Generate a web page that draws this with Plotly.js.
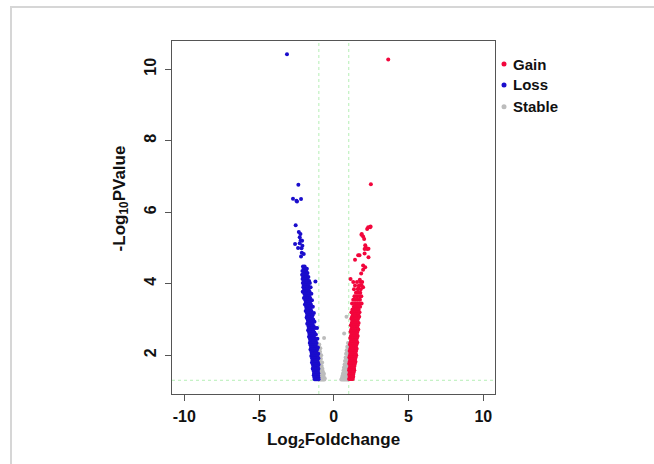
<!DOCTYPE html>
<html>
<head>
<meta charset="utf-8">
<script src="https://cdn.plot.ly/plotly-3.0.1.min.js"></script>
<style>
html,body{margin:0;padding:0;background:#fff;}
#wrap{position:relative;width:654px;height:464px;}
#chart{width:654px;height:464px;}
#frame{position:absolute;left:10px;top:6px;width:700px;height:500px;border-top:2px solid #d6d6d6;border-left:2px solid #d6d6d6;pointer-events:none;}
</style>
</head>
<body>
<div id="wrap"><div id="chart"></div><div id="frame"></div></div>
<script>
// ---- Data ----
const seriesNames = ["Gain", "Loss", "Stable"];
const xTicks = [-10, -5, 0, 5, 10];
const yTicks = [2, 4, 6, 8, 10];
const fcCut = 1;          // |log2FC| threshold
const pCut = 1.301;       // -log10(0.05)

const lossX = [
 -3.13,-2.37,-2.73,-2.50,-2.46,-2.19,-2.55,-2.34,-2.23,-2.28,-2.59,-2.28,-2.10,-2.39,-2.14,-2.01,-2.19,-2.21,-2.12,-2.16,
 -2.06,-1.95,
 -2.02,-1.88,-1.80,
 -2.10,-1.97,-1.85,
 -1.99,-1.90,-1.76,
 -2.12,-2.03,-1.93,-1.82,
 -2.05,-1.96,-1.87,-1.70,
 -2.09,-1.98,-1.89,-1.78,
 -2.01,-1.92,-1.84,-1.65,-1.23,
 -2.07,-1.96,-1.87,-1.76,-1.60,
 -2.00,-1.91,-1.82,-1.72,
 -2.04,-1.94,-1.85,-1.78,-1.55,
 -1.98,-1.89,-1.80,-1.69,
 -2.08,-1.93,-1.84,-1.75,-1.62,
 -1.97,-1.88,-1.79,-1.70,-1.50,
 -1.92,-1.83,-1.74,-1.65,
 -2.00,-1.88,-1.79,-1.70,-1.58,
 -1.90,-1.82,-1.73,-1.64,-1.46,
 -1.86,-1.78,-1.69,-1.60,
 -1.93,-1.83,-1.74,-1.65,-1.53,
 -1.85,-1.77,-1.68,-1.59,-1.40,
 -1.82,-1.73,-1.64,-1.55,
 -1.88,-1.79,-1.70,-1.61,-1.50,
 -1.80,-1.72,-1.63,-1.54,-1.33,
 -1.77,-1.68,-1.60,-1.51,-1.42,
 -1.82,-1.74,-1.65,-1.57,-1.47,
 -1.75,-1.67,-1.59,-1.50,-1.38,
 -1.72,-1.64,-1.56,-1.47,-1.29,
 -1.78,-1.69,-1.61,-1.53,-1.44,
 -1.70,-1.62,-1.54,-1.45,-1.35,
 -1.67,-1.59,-1.51,-1.42,-1.25,-1.12,
 -1.72,-1.64,-1.56,-1.48,-1.39,
 -1.65,-1.57,-1.49,-1.41,-1.30,
 -1.62,-1.54,-1.46,-1.38,-1.20,
 -1.66,-1.58,-1.50,-1.42,-1.33,
 -1.60,-1.52,-1.44,-1.36,-1.26,-1.10,
 -1.57,-1.49,-1.41,-1.33,-1.22,
 -1.61,-1.53,-1.45,-1.37,-1.28,-1.15,
 -1.55,-1.47,-1.39,-1.31,-1.21,
 -1.52,-1.44,-1.36,-1.28,-1.18,-1.06,
 -1.56,-1.48,-1.40,-1.32,-1.24,-1.12,
 -1.50,-1.42,-1.35,-1.27,-1.17,
 -1.47,-1.40,-1.32,-1.24,-1.14,-1.04,
 -1.51,-1.43,-1.36,-1.28,-1.20,-1.09,
 -1.45,-1.38,-1.30,-1.22,-1.13,-1.03,
 -1.42,-1.35,-1.28,-1.20,-1.11,
 -1.46,-1.39,-1.31,-1.24,-1.16,-1.06,
 -1.40,-1.33,-1.26,-1.18,-1.09,-1.02,
 -1.37,-1.30,-1.23,-1.15,-1.07,
 -1.41,-1.34,-1.27,-1.20,-1.12,-1.03,
 -1.35,-1.28,-1.21,-1.14,-1.06,
 -1.32,-1.26,-1.19,-1.12,-1.04,
 -1.34,-1.27,-1.20,-1.13,-1.05,
 -1.30,-1.24,-1.17,-1.10,-1.03,
 -1.28,-1.21,-1.15,-1.08,-1.02
];
const lossY = [
 10.42,6.77,6.38,6.32,6.30,6.37,5.64,5.45,5.39,5.30,5.11,5.13,5.06,5.00,4.87,4.83,4.76,5.22,5.20,4.99,
 4.48,4.48,
 4.42,4.42,4.42,
 4.36,4.36,4.36,
 4.30,4.30,4.30,
 4.25,4.25,4.25,4.25,
 4.19,4.19,4.19,4.19,
 4.13,4.13,4.13,4.13,
 4.08,4.08,4.08,4.08,4.06,
 4.02,4.02,4.02,4.02,4.02,
 3.96,3.96,3.96,3.96,
 3.90,3.90,3.90,3.90,3.90,
 3.84,3.84,3.84,3.84,
 3.78,3.78,3.78,3.78,3.78,
 3.72,3.72,3.72,3.72,3.72,
 3.66,3.66,3.66,3.66,
 3.60,3.60,3.60,3.60,3.60,
 3.54,3.54,3.54,3.54,3.54,
 3.48,3.48,3.48,3.48,
 3.42,3.42,3.42,3.42,3.42,
 3.36,3.36,3.36,3.36,3.36,
 3.30,3.30,3.30,3.30,
 3.24,3.24,3.24,3.24,3.24,
 3.18,3.18,3.18,3.18,3.18,
 3.12,3.12,3.12,3.12,3.12,
 3.06,3.06,3.06,3.06,3.06,
 3.00,3.00,3.00,3.00,3.00,
 2.94,2.94,2.94,2.94,2.94,
 2.88,2.88,2.88,2.88,2.88,
 2.82,2.82,2.82,2.82,2.82,
 2.76,2.76,2.76,2.76,2.76,2.76,
 2.70,2.70,2.70,2.70,2.70,
 2.64,2.64,2.64,2.64,2.64,
 2.58,2.58,2.58,2.58,2.58,
 2.52,2.52,2.52,2.52,2.52,
 2.46,2.46,2.46,2.46,2.46,2.46,
 2.40,2.40,2.40,2.40,2.40,
 2.34,2.34,2.34,2.34,2.34,2.34,
 2.28,2.28,2.28,2.28,2.28,
 2.22,2.22,2.22,2.22,2.22,2.22,
 2.16,2.16,2.16,2.16,2.16,2.16,
 2.10,2.10,2.10,2.10,2.10,
 2.04,2.04,2.04,2.04,2.04,2.04,
 1.98,1.98,1.98,1.98,1.98,1.98,
 1.92,1.92,1.92,1.92,1.92,1.92,
 1.86,1.86,1.86,1.86,1.86,
 1.80,1.80,1.80,1.80,1.80,1.80,
 1.74,1.74,1.74,1.74,1.74,1.74,
 1.68,1.68,1.68,1.68,1.68,
 1.62,1.62,1.62,1.62,1.62,1.62,
 1.56,1.56,1.56,1.56,1.56,
 1.50,1.50,1.50,1.50,1.50,
 1.44,1.44,1.44,1.44,1.44,
 1.38,1.38,1.38,1.38,1.38,
 1.33,1.33,1.33,1.33,1.33
];

const gainX = [
 3.64,2.48,2.23,2.43,2.30,2.46,1.87,1.96,2.03,1.85,2.10,2.14,2.06,2.23,2.32,2.06,1.72,2.32,1.42,1.63,
 1.96,2.10,1.96,1.83,1.12,1.74,1.65,1.96,
 1.30,1.55,1.78,1.90,
 1.42,1.68,1.86,
 1.35,1.60,1.80,
 1.48,1.63,1.77,
 1.38,1.55,1.72,1.84,
 1.30,1.45,1.60,1.75,
 1.22,1.40,1.55,1.70,1.86,
 1.34,1.48,1.62,1.76,
 1.25,1.40,1.52,1.66,
 1.18,1.32,1.45,1.58,1.72,
 1.28,1.40,1.52,1.64,
 1.22,1.34,1.46,1.58,1.70,
 1.17,1.29,1.41,1.53,1.62,
 1.24,1.35,1.47,1.58,
 1.20,1.31,1.43,1.55,1.66,
 1.14,1.26,1.38,1.50,1.60,
 1.22,1.33,1.45,1.57,
 1.17,1.29,1.41,1.52,1.64,
 1.12,1.24,1.36,1.48,1.58,
 1.19,1.31,1.43,1.54,
 1.14,1.26,1.38,1.50,1.60,
 1.10,1.22,1.33,1.45,1.55,
 1.16,1.28,1.40,1.51,
 1.12,1.23,1.35,1.47,1.57,
 1.08,1.19,1.31,1.42,1.52,
 1.14,1.26,1.37,1.48,
 1.10,1.21,1.33,1.44,1.53,
 1.06,1.17,1.28,1.40,1.49,
 1.12,1.23,1.35,1.45,
 1.08,1.19,1.30,1.41,1.50,
 1.04,1.15,1.26,1.37,1.46,
 1.10,1.21,1.32,1.42,
 1.06,1.17,1.28,1.38,1.45,
 1.03,1.13,1.24,1.34,1.41,
 1.09,1.19,1.29,1.38,
 1.05,1.15,1.25,1.35,
 1.02,1.11,1.21,1.31,1.37,
 1.07,1.17,1.27,1.33,
 1.03,1.13,1.22,1.30,
 1.06,1.15,1.24,1.30,
 1.02,1.10,1.19,1.27
];
const gainY = [
 10.27,6.78,5.53,5.58,5.58,5.60,5.39,5.32,5.25,5.37,5.08,5.02,4.97,4.97,4.98,4.85,4.80,4.74,4.67,4.80,
 4.51,4.46,4.39,4.29,4.13,4.11,3.88,3.90,
 4.05,4.05,4.05,4.05,
 3.95,3.95,3.95,
 3.85,3.85,3.85,
 3.75,3.75,3.75,
 3.65,3.65,3.65,3.65,
 3.55,3.55,3.55,3.55,
 3.45,3.45,3.45,3.45,3.45,
 3.36,3.36,3.36,3.36,
 3.28,3.28,3.28,3.28,
 3.20,3.20,3.20,3.20,3.20,
 3.14,3.14,3.14,3.14,
 3.08,3.08,3.08,3.08,3.08,
 3.02,3.02,3.02,3.02,3.02,
 2.96,2.96,2.96,2.96,
 2.90,2.90,2.90,2.90,2.90,
 2.84,2.84,2.84,2.84,2.84,
 2.78,2.78,2.78,2.78,
 2.72,2.72,2.72,2.72,2.72,
 2.66,2.66,2.66,2.66,2.66,
 2.60,2.60,2.60,2.60,
 2.54,2.54,2.54,2.54,2.54,
 2.48,2.48,2.48,2.48,2.48,
 2.42,2.42,2.42,2.42,
 2.36,2.36,2.36,2.36,2.36,
 2.30,2.30,2.30,2.30,2.30,
 2.24,2.24,2.24,2.24,
 2.18,2.18,2.18,2.18,2.18,
 2.12,2.12,2.12,2.12,2.12,
 2.06,2.06,2.06,2.06,
 2.00,2.00,2.00,2.00,2.00,
 1.94,1.94,1.94,1.94,1.94,
 1.88,1.88,1.88,1.88,
 1.82,1.82,1.82,1.82,1.82,
 1.76,1.76,1.76,1.76,1.76,
 1.70,1.70,1.70,1.70,
 1.64,1.64,1.64,1.64,
 1.58,1.58,1.58,1.58,1.58,
 1.52,1.52,1.52,1.52,
 1.46,1.46,1.46,1.46,
 1.40,1.40,1.40,1.40,
 1.34,1.34,1.34,1.34
];

const stableX = [
 -0.65,-0.97,-0.95,-0.90,-0.98,-0.92,-0.96,-0.89,-0.84,-0.99,-0.93,-0.86,-0.97,-0.90,-0.83,-0.78,
 -0.95,-0.88,-0.81,-0.98,-0.91,-0.84,-0.76,-0.96,-0.89,-0.82,-0.74,-0.94,-0.87,-0.80,-0.72,-0.66,
 -0.97,-0.90,-0.83,-0.76,-0.69,-0.95,-0.88,-0.81,-0.74,-0.67,-0.61,-0.98,-0.91,-0.84,-0.77,-0.70,-0.63,
 0.85,0.69,0.95,0.90,0.97,0.86,0.94,0.82,0.90,0.97,0.79,0.87,0.95,0.75,0.83,0.91,0.98,
 0.72,0.80,0.88,0.96,0.68,0.76,0.84,0.92,0.99,0.65,0.73,0.81,0.89,0.97,0.62,0.70,0.78,0.86,0.94,
 0.58,0.66,0.74,0.82,0.90,0.98,0.55,0.63,0.71,0.79,0.87,0.95,0.50,0.58,0.66,0.74,0.82,0.90,0.97
];
const stableY = [
 2.48,2.30,2.20,2.20,2.10,2.10,2.00,2.00,2.00,1.90,1.90,1.90,1.80,1.80,1.80,1.80,
 1.70,1.70,1.70,1.62,1.62,1.62,1.62,1.55,1.55,1.55,1.55,1.48,1.48,1.48,1.48,1.48,
 1.42,1.42,1.42,1.42,1.42,1.36,1.36,1.36,1.36,1.36,1.36,1.32,1.32,1.32,1.32,1.32,1.32,
 3.08,2.61,2.34,2.24,2.24,2.14,2.14,2.04,2.04,2.04,1.94,1.94,1.94,1.84,1.84,1.84,1.84,
 1.74,1.74,1.74,1.74,1.66,1.66,1.66,1.66,1.66,1.58,1.58,1.58,1.58,1.58,1.50,1.50,1.50,1.50,1.50,
 1.43,1.43,1.43,1.43,1.43,1.43,1.37,1.37,1.37,1.37,1.37,1.37,1.32,1.32,1.32,1.32,1.32,1.32,1.32
];

const colors = {Gain: "#f2063c", Loss: "#1a0dcc", Stable: "#bcbcbc"};

// ---- Traces ----
const mk = (name, x, y) => ({
  type: "scatter", mode: "markers", name: name, x: x, y: y,
  marker: {color: colors[name], size: 4, line: {width: 0}},
  showlegend: false, hoverinfo: "x+y+name"
});
const traces = [
  mk("Stable", stableX, stableY),
  mk("Loss", lossX, lossY),
  mk("Gain", gainX, gainY)
];

const FONT = "Liberation Sans, Arial, Helvetica, sans-serif";
const dash = {color: "#b5efb5", width: 1, dash: "3px,3px"};

// legend built from the series names
const legY = [0.9348, 0.8754, 0.8139];
const shapes = [
  {type: "line", xref: "x", yref: "paper", x0: -fcCut, x1: -fcCut, y0: 0, y1: 1, line: dash, layer: "below"},
  {type: "line", xref: "x", yref: "paper", x0: fcCut, x1: fcCut, y0: 0, y1: 1, line: dash, layer: "below"},
  {type: "line", xref: "paper", yref: "y", x0: 0, x1: 1, y0: pCut, y1: pCut, line: dash, layer: "below"}
];
const annotations = [];
seriesNames.forEach((n, i) => {
  shapes.push({type: "circle", xref: "paper", yref: "paper", xsizemode: "pixel", ysizemode: "pixel",
    xanchor: 1.0279, yanchor: legY[i], x0: -2.5, x1: 2.5, y0: -2.5, y1: 2.5,
    fillcolor: colors[n], line: {width: 0}});
  annotations.push({xref: "paper", yref: "paper", x: 1.049, y: legY[i], xanchor: "left", yanchor: "middle",
    text: n, showarrow: false, font: {family: FONT, size: 15, color: "#111", weight: "bold"}});
});
annotations.push({xref: "paper", yref: "paper", x: -0.158, y: 0.554, xanchor: "center", yanchor: "middle",
  textangle: -90, showarrow: false, text: "-Log<sub>10</sub>PValue",
  font: {family: FONT, size: 17, color: "#111", weight: "bold"}});

const layout = {
  width: 654, height: 464,
  margin: {l: 172, r: 159, t: 41, b: 70, pad: 0},
  paper_bgcolor: "#fff", plot_bgcolor: "#fff",
  showlegend: false,
  font: {family: FONT, color: "#111"},
  xaxis: {
    range: [-10.82, 10.78], tickvals: xTicks, ticktext: xTicks.map(String),
    showgrid: false, zeroline: false, showline: true, mirror: true,
    linecolor: "#555", linewidth: 1, ticks: "outside", ticklen: 6, tickcolor: "#555",
    tickfont: {family: FONT, size: 16, color: "#111", weight: "bold"},
    ticklabelstandoff: 2,
    title: {text: "Log<sub>2</sub>Foldchange", standoff: 8, font: {family: FONT, size: 17, color: "#111", weight: "bold"}},
    automargin: false
  },
  yaxis: {
    range: [0.917, 10.79], tickvals: yTicks, ticktext: yTicks.map(String),
    showgrid: false, zeroline: false, showline: true, mirror: true,
    linecolor: "#555", linewidth: 1, ticks: "outside", ticklen: 6, tickcolor: "#555",
    tickangle: -90,
    tickfont: {family: FONT, size: 16, color: "#111", weight: "bold"},
    ticklabelstandoff: 3,
    automargin: false
  },
  shapes: shapes,
  annotations: annotations
};

Plotly.newPlot("chart", traces, layout, {displayModeBar: false, staticPlot: true});
</script>
</body>
</html>
